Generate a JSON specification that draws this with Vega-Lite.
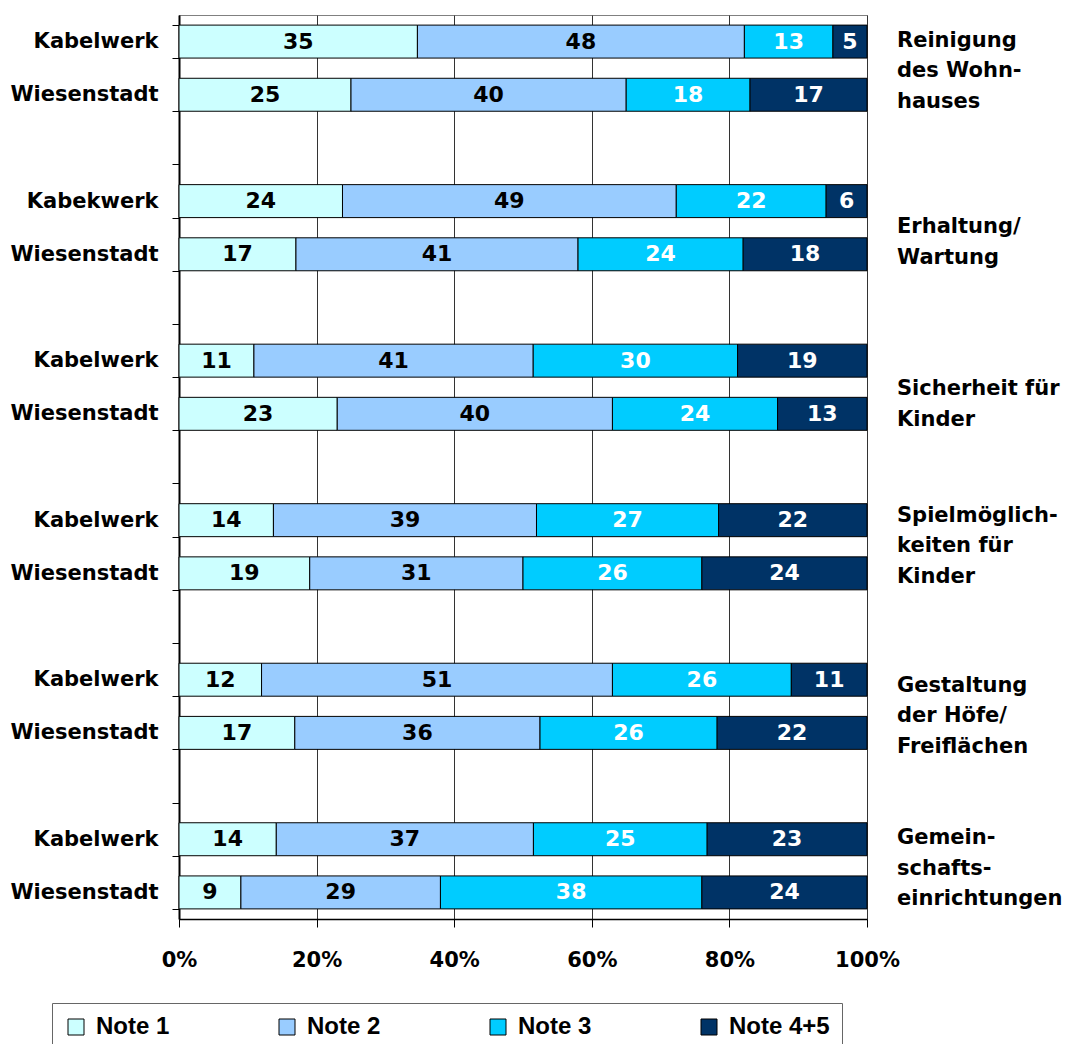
{
  "$schema": "https://vega.github.io/schema/vega-lite/v6.json",
  "autosize": {"type": "none"},
  "padding": {"left": 179, "top": 15, "right": 209, "bottom": 125},
  "width": 688,
  "height": 904,
  "config": {
    "font": "DejaVu Sans",
    "view": {"stroke": "#808080", "strokeWidth": 1}
  },
  "resolve": {"scale": {"y": "independent"}},
  "layer": [
    {
      "data": {
        "values": [
          {"row": "Kabelwerk|1", "note": "Note 1", "value": 35},
          {"row": "Kabelwerk|1", "note": "Note 2", "value": 48},
          {"row": "Kabelwerk|1", "note": "Note 3", "value": 13},
          {"row": "Kabelwerk|1", "note": "Note 4+5", "value": 5},
          {"row": "Wiesenstadt|1", "note": "Note 1", "value": 25},
          {"row": "Wiesenstadt|1", "note": "Note 2", "value": 40},
          {"row": "Wiesenstadt|1", "note": "Note 3", "value": 18},
          {"row": "Wiesenstadt|1", "note": "Note 4+5", "value": 17},
          {"row": "Kabekwerk|2", "note": "Note 1", "value": 24},
          {"row": "Kabekwerk|2", "note": "Note 2", "value": 49},
          {"row": "Kabekwerk|2", "note": "Note 3", "value": 22},
          {"row": "Kabekwerk|2", "note": "Note 4+5", "value": 6},
          {"row": "Wiesenstadt|2", "note": "Note 1", "value": 17},
          {"row": "Wiesenstadt|2", "note": "Note 2", "value": 41},
          {"row": "Wiesenstadt|2", "note": "Note 3", "value": 24},
          {"row": "Wiesenstadt|2", "note": "Note 4+5", "value": 18},
          {"row": "Kabelwerk|3", "note": "Note 1", "value": 11},
          {"row": "Kabelwerk|3", "note": "Note 2", "value": 41},
          {"row": "Kabelwerk|3", "note": "Note 3", "value": 30},
          {"row": "Kabelwerk|3", "note": "Note 4+5", "value": 19},
          {"row": "Wiesenstadt|3", "note": "Note 1", "value": 23},
          {"row": "Wiesenstadt|3", "note": "Note 2", "value": 40},
          {"row": "Wiesenstadt|3", "note": "Note 3", "value": 24},
          {"row": "Wiesenstadt|3", "note": "Note 4+5", "value": 13},
          {"row": "Kabelwerk|4", "note": "Note 1", "value": 14},
          {"row": "Kabelwerk|4", "note": "Note 2", "value": 39},
          {"row": "Kabelwerk|4", "note": "Note 3", "value": 27},
          {"row": "Kabelwerk|4", "note": "Note 4+5", "value": 22},
          {"row": "Wiesenstadt|4", "note": "Note 1", "value": 19},
          {"row": "Wiesenstadt|4", "note": "Note 2", "value": 31},
          {"row": "Wiesenstadt|4", "note": "Note 3", "value": 26},
          {"row": "Wiesenstadt|4", "note": "Note 4+5", "value": 24},
          {"row": "Kabelwerk|5", "note": "Note 1", "value": 12},
          {"row": "Kabelwerk|5", "note": "Note 2", "value": 51},
          {"row": "Kabelwerk|5", "note": "Note 3", "value": 26},
          {"row": "Kabelwerk|5", "note": "Note 4+5", "value": 11},
          {"row": "Wiesenstadt|5", "note": "Note 1", "value": 17},
          {"row": "Wiesenstadt|5", "note": "Note 2", "value": 36},
          {"row": "Wiesenstadt|5", "note": "Note 3", "value": 26},
          {"row": "Wiesenstadt|5", "note": "Note 4+5", "value": 22},
          {"row": "Kabelwerk|6", "note": "Note 1", "value": 14},
          {"row": "Kabelwerk|6", "note": "Note 2", "value": 37},
          {"row": "Kabelwerk|6", "note": "Note 3", "value": 25},
          {"row": "Kabelwerk|6", "note": "Note 4+5", "value": 23},
          {"row": "Wiesenstadt|6", "note": "Note 1", "value": 9},
          {"row": "Wiesenstadt|6", "note": "Note 2", "value": 29},
          {"row": "Wiesenstadt|6", "note": "Note 3", "value": 38},
          {"row": "Wiesenstadt|6", "note": "Note 4+5", "value": 24}
        ]
      },
      "transform": [
        {"stack": "value", "groupby": ["row"], "sort": [{"field": "note"}], "as": ["v0", "v1"], "offset": "normalize"},
        {"calculate": "(datum.v0 + datum.v1) / 2", "as": "mid"}
      ],
      "encoding": {
        "y": {
          "field": "row",
          "type": "nominal",
          "sort": null,
          "scale": {
            "domain": ["Kabelwerk|1", "Wiesenstadt|1", "|g1", "Kabekwerk|2", "Wiesenstadt|2", "|g2", "Kabelwerk|3", "Wiesenstadt|3", "|g3", "Kabelwerk|4", "Wiesenstadt|4", "|g4", "Kabelwerk|5", "Wiesenstadt|5", "|g5", "Kabelwerk|6", "Wiesenstadt|6"],
            "paddingInner": 0.38,
            "paddingOuter": 0.19
          },
          "axis": {
            "title": null,
            "labelExpr": "isString(datum.value) ? split(datum.value, '|')[0] : ''",
            "tickBand": "extent",
            "tickSize": 7,
            "tickColor": "black",
            "domainColor": "black",
            "domainWidth": 2,
            "labelPadding": 14,
            "labelFont": "DejaVu Sans",
            "labelFontWeight": "bold",
            "labelFontSize": 21,
            "labelColor": "black",
            "grid": false
          }
        }
      },
      "layer": [
        {
          "mark": {"type": "bar", "stroke": "black", "strokeWidth": 1},
          "encoding": {
            "x": {
              "field": "v0",
              "type": "quantitative",
              "scale": {"domain": [0, 1], "nice": false},
              "axis": {
                "title": null,
                "values": [0, 0.2, 0.4, 0.6, 0.8, 1],
                "format": ".0%",
                "labelFlush": false,
                "labelPadding": 22,
                "tickSize": 8,
                "tickColor": "black",
                "domainColor": "black",
                "domainWidth": 1.5,
                "grid": true,
                "gridColor": "#333333",
                "gridOpacity": 1,
                "labelFont": "DejaVu Sans",
                "labelFontWeight": "bold",
                "labelFontSize": 21,
                "labelColor": "black"
              }
            },
            "x2": {"field": "v1"},
            "color": {
              "field": "note",
              "type": "nominal",
              "scale": {
                "domain": ["Note 1", "Note 2", "Note 3", "Note 4+5"],
                "range": ["#CCFFFF", "#99CCFF", "#00CCFF", "#003366"]
              },
              "legend": {
                "title": null,
                "orient": "none",
                "legendX": -127,
                "legendY": 988,
                "direction": "horizontal",
                "columns": 4,
                "gridAlign": "all",
                "columnPadding": 78,
                "symbolType": "square",
                "symbolSize": 256,
                "symbolStrokeColor": "black",
                "symbolStrokeWidth": 1,
                "labelFont": "Liberation Sans",
                "labelFontWeight": "bold",
                "labelFontSize": 24,
                "labelOffset": 8,
                "labelColor": "black",
                "labelLimit": 300,
                "padding": 12,
                "strokeColor": "#666666",
                "fillColor": "white"
              }
            }
          }
        },
        {
          "mark": {"type": "text", "font": "DejaVu Sans", "fontWeight": "bold", "fontSize": 22, "align": "center", "baseline": "middle"},
          "encoding": {
            "x": {"field": "mid", "type": "quantitative"},
            "text": {"field": "value", "type": "quantitative"},
            "color": {
              "condition": {"test": "datum.note === 'Note 3' || datum.note === 'Note 4+5'", "value": "white"},
              "value": "black"
            }
          }
        }
      ]
    },
    {
      "data": {
        "values": [
          {"label": "Reinigung\ndes Wohn-\nhauses", "pos": 0.6},
          {"label": "Erhaltung/\nWartung", "pos": 4.10},
          {"label": "Sicherheit für\nKinder", "pos": 7.15},
          {"label": "Spielmöglich-\nkeiten für\nKinder", "pos": 9.53},
          {"label": "Gestaltung\nder Höfe/\nFreiflächen", "pos": 12.73},
          {"label": "Gemein-\nschafts-\neinrichtungen", "pos": 15.59}
        ]
      },
      "mark": {"type": "text", "font": "DejaVu Sans", "fontWeight": "bold", "fontSize": 21, "align": "left", "baseline": "alphabetic", "lineBreak": "\n", "lineHeight": 30.5, "dx": 30, "color": "black"},
      "encoding": {
        "x": {"datum": 1, "type": "quantitative"},
        "y": {"field": "pos", "type": "quantitative", "scale": {"domain": [0, 17], "reverse": true, "nice": false, "zero": false}, "axis": null},
        "text": {"field": "label"}
      }
    }
  ]
}
